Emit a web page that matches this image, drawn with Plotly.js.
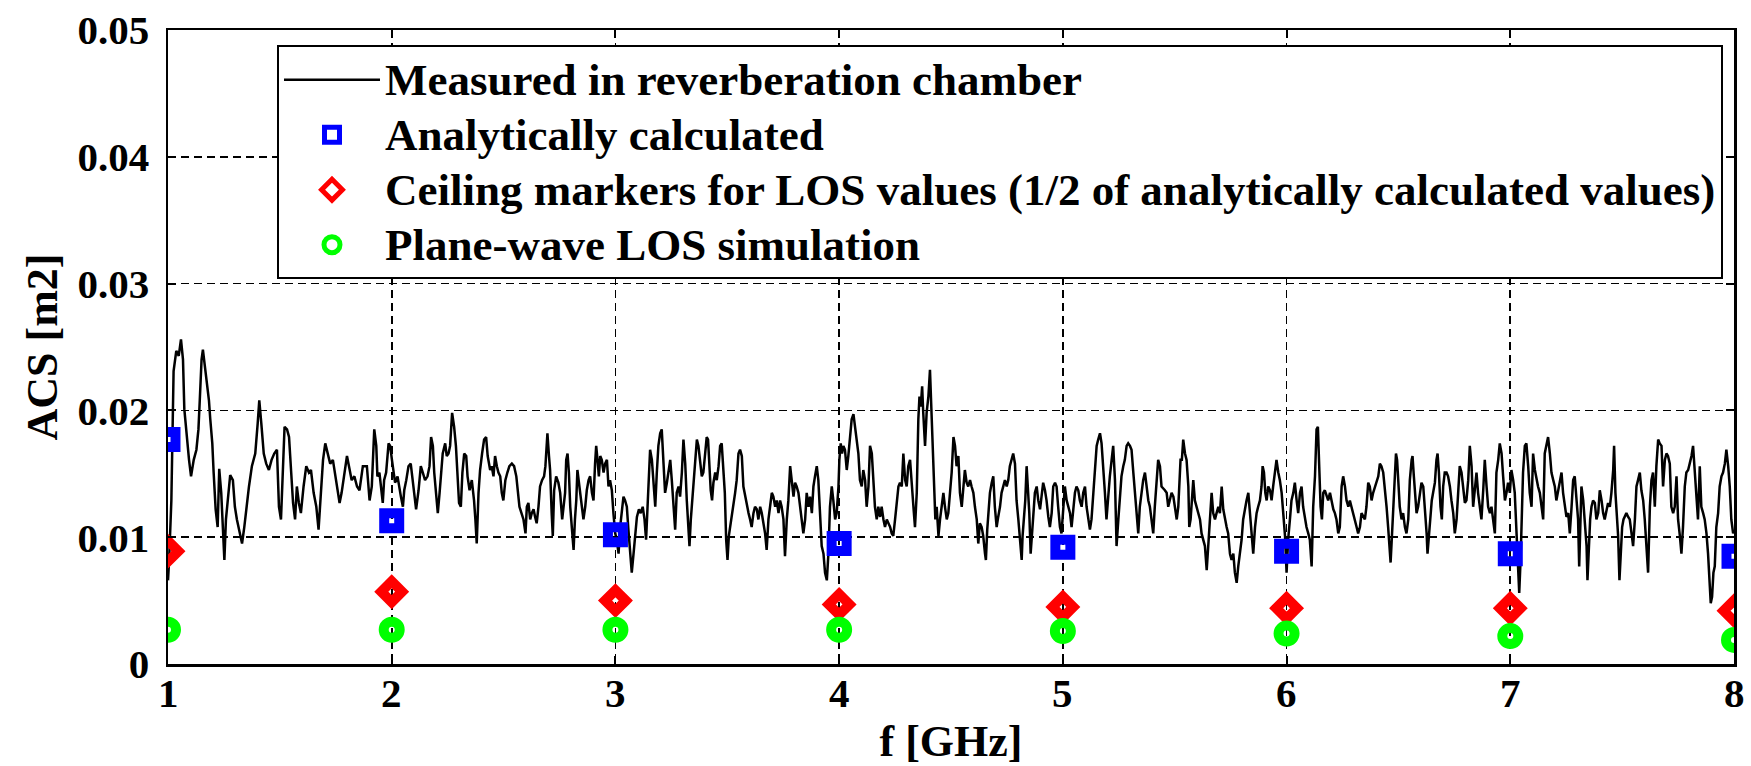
<!DOCTYPE html>
<html><head><meta charset="utf-8">
<script src="https://cdn.plot.ly/plotly-3.0.1.min.js"></script>
<style>html,body{margin:0;padding:0;background:#fff;}#chart{width:1751px;height:766px;}</style>
</head><body><div id="chart"></div>
<script>
const measuredFreq = [
1.000,1.005,1.015,1.025,1.037,1.048,1.058,1.067,1.073,1.085,1.094,1.103,1.115,1.127,1.136,1.142,1.150,1.156,1.165,1.174,1.183,1.189,1.198,1.204,1.213,1.222,1.229,1.238,1.246,1.252,1.259,1.270,1.278,1.290,1.299,1.308,1.320,1.331,1.341,1.350,1.362,1.375,1.390,1.401,1.408,1.417,1.428,1.439,1.451,1.463,1.475,1.487,1.496,1.505,1.514,1.521,1.532,1.541,1.550,1.559,1.568,1.576,1.585,1.594,1.606,1.618,1.630,1.639,1.651,1.663,1.673,1.684,1.693,1.703,1.713,1.725,1.737,1.746,1.755,1.767,1.776,1.788,1.800,1.809,1.821,1.833,1.845,1.856,1.871,
1.889,1.901,1.911,1.922,1.931,1.936,1.945,1.953,1.960,1.966,1.975,1.986,1.993,2.001,2.008,2.015,2.026,2.035,2.041,2.050,2.056,2.065,2.075,2.085,2.094,2.102,2.109,2.120,2.130,2.139,2.149,2.160,2.169,2.176,2.184,2.190,2.199,2.206,2.214,2.221,2.228,2.239,2.246,2.254,2.261,2.270,2.279,2.287,2.294,2.301,2.309,2.316,2.324,2.333,2.339,2.348,2.358,2.368,2.374,2.380,2.388,2.395,2.404,2.413,2.422,2.429,2.440,2.447,2.455,2.462,2.470,2.477,2.485,2.492,2.499,2.508,2.517,2.526,2.537,2.547,2.557,2.562,2.571,2.580,2.589,2.598,2.604,2.611,2.619,2.626,2.634,2.641,2.648,2.656,2.663,2.672,2.681,2.687,2.696,2.703,2.708,2.715,2.720,2.726,2.735,2.745,2.753,2.762,
2.775,2.780,2.786,2.792,2.798,2.805,2.813,2.819,2.825,2.830,2.836,2.842,2.850,2.857,2.865,2.872,2.880,2.887,2.895,2.902,2.909,2.914,2.920,2.926,2.932,2.939,2.947,2.954,2.962,2.969,2.976,2.984,2.991,2.999,3.006,3.014,3.021,3.029,3.036,3.043,3.051,3.058,3.066,3.073,3.081,3.088,3.096,3.105,3.113,3.122,3.130,3.137,3.143,3.149,3.155,3.163,3.170,3.178,3.185,3.192,3.200,3.207,3.215,3.222,3.230,3.237,3.245,3.252,3.259,3.267,3.274,3.282,3.289,3.297,3.304,3.312,3.319,3.326,3.331,3.337,3.346,3.355,3.364,3.371,3.379,3.386,3.393,3.401,3.408,3.414,3.420,3.426,3.432,3.438,3.446,3.453,3.461,3.468,3.475,3.483,3.489,3.495,3.501,3.507,3.513,3.520,3.528,3.535,3.542,3.550,3.557,3.565,3.572,3.580,3.587,3.595,3.602,3.609,3.617,3.624,3.632,3.639,3.647,3.654,
3.669,3.676,3.684,3.691,3.699,3.706,3.714,3.721,3.729,3.736,3.743,3.751,3.758,3.766,3.773,3.781,3.788,3.796,3.803,3.810,3.818,3.825,3.833,3.840,3.848,3.855,3.863,3.870,3.878,3.885,3.892,3.900,3.907,3.915,3.922,3.930,3.937,3.945,3.952,3.959,3.967,3.974,3.982,3.989,3.997,4.001,4.007,4.013,4.019,4.026,4.034,4.041,4.049,4.056,4.064,4.071,4.079,4.086,4.093,4.101,4.108,4.116,4.123,4.131,4.138,4.146,4.153,4.160,4.168,4.175,4.183,4.190,4.198,4.205,4.213,4.220,4.228,4.235,4.242,4.250,4.257,4.265,4.272,4.280,4.287,4.295,4.302,4.309,4.317,4.324,4.332,4.339,4.347,4.354,4.359,4.365,4.371,4.376,4.384,4.391,4.399,4.406,4.412,4.418,4.424,4.430,4.436,4.444,4.451,4.458,4.466,4.473,4.481,4.488,4.496,4.503,4.511,4.518,4.525,4.533,4.540,4.548,
4.562,4.570,4.577,4.585,4.592,4.600,4.607,4.615,4.622,4.629,4.637,4.644,4.652,4.656,4.662,4.668,4.674,4.682,4.689,4.696,4.704,4.711,4.719,4.726,4.734,4.741,4.749,4.756,4.763,4.771,4.778,4.786,4.793,4.801,4.808,4.816,4.820,4.826,4.832,4.838,4.844,4.850,4.856,4.862,4.868,4.875,4.883,4.890,4.898,4.905,4.912,4.920,4.927,4.935,4.942,4.950,4.957,4.965,4.972,4.979,4.987,4.994,5.002,5.009,5.017,5.024,5.032,5.039,5.046,5.054,5.061,5.069,5.076,5.084,5.091,5.099,5.106,5.113,5.121,5.128,5.136,5.143,5.151,5.158,5.166,5.173,5.180,5.188,5.195,5.203,5.210,5.218,5.225,5.233,5.240,5.248,5.255,5.262,5.270,5.277,5.285,5.292,5.300,5.307,5.315,5.322,5.329,5.337,5.344,5.352,5.359,5.367,5.374,5.382,5.389,5.396,5.404,5.411,5.419,5.426,5.434,5.441,
5.456,5.464,5.471,5.479,5.486,5.494,5.501,5.509,5.516,5.520,5.526,5.532,5.538,5.546,5.553,5.561,5.565,5.571,5.577,5.583,5.590,5.598,5.605,5.613,5.620,5.628,5.635,5.643,5.650,5.657,5.665,5.672,5.680,5.687,5.695,5.702,5.710,5.717,5.724,5.732,5.739,5.747,5.754,5.762,5.769,5.777,5.784,5.792,5.799,5.806,5.814,5.821,5.829,5.836,5.844,5.851,5.859,5.866,5.873,5.881,5.888,5.893,5.899,5.905,5.911,5.918,5.926,5.933,5.940,5.948,5.955,5.963,5.970,5.978,5.985,5.993,6.000,6.007,6.015,6.022,6.030,6.037,6.045,6.052,6.060,6.067,6.074,6.082,6.089,6.097,6.104,6.112,6.119,6.127,6.134,6.140,6.146,6.152,6.158,6.164,6.171,6.179,6.186,6.194,6.201,6.209,6.216,6.223,6.231,6.238,6.246,6.253,6.261,6.268,6.276,6.283,6.290,6.298,6.305,6.313,6.320,6.328,6.335,
6.350,6.357,6.365,6.372,6.380,6.387,6.395,6.402,6.410,6.417,6.424,6.432,6.439,6.447,6.454,6.459,6.465,6.471,6.477,6.483,6.489,6.494,6.500,6.506,6.514,6.521,6.529,6.536,6.544,6.551,6.559,6.563,6.569,6.575,6.581,6.588,6.596,6.603,6.611,6.618,6.626,6.630,6.636,6.643,6.649,6.655,6.663,6.670,6.675,6.681,6.688,6.694,6.700,6.707,6.715,6.722,6.730,6.737,6.745,6.752,6.760,6.767,6.774,6.782,6.789,6.797,6.804,6.812,6.819,6.827,6.834,6.841,6.849,6.856,6.864,6.871,6.879,6.886,6.894,6.901,6.909,6.916,6.923,6.931,6.938,6.946,6.953,6.961,6.968,6.976,6.983,6.990,6.998,7.005,7.013,7.020,7.028,7.035,7.040,7.046,7.051,7.057,7.065,7.072,7.080,7.087,7.095,7.102,7.110,7.117,7.124,7.132,7.139,7.147,7.154,7.162,7.169,7.177,7.184,7.192,7.199,7.206,
7.229,7.236,7.244,7.251,7.259,7.266,7.274,7.281,7.288,7.296,7.303,7.308,7.314,7.318,7.326,7.333,7.341,7.345,7.351,7.357,7.363,7.370,7.378,7.385,7.393,7.400,7.408,7.415,7.422,7.430,7.437,7.445,7.452,7.460,7.464,7.470,7.476,7.482,7.488,7.494,7.500,7.506,7.512,7.519,7.527,7.534,7.542,7.549,7.557,7.564,7.571,7.579,7.586,7.594,7.601,7.609,7.616,7.624,7.631,7.638,7.646,7.653,7.661,7.668,7.676,7.683,7.691,7.698,7.705,7.713,7.720,7.728,7.735,7.743,7.750,7.758,7.765,7.772,7.780,7.787,7.795,7.802,7.810,7.817,7.825,7.832,7.839,7.847,7.854,7.862,7.869,7.877,7.884,7.892,7.896,7.902,7.908,7.914,7.921,7.929,7.936,7.944,7.951,7.959,7.966,7.974,7.981,7.988,7.996,8.000
];
const measuredAcs = [
0.0066,0.0082,0.0129,0.0231,0.0247,0.0243,0.0256,0.0240,0.0201,0.0174,0.0161,0.0148,0.0161,0.0169,0.0185,0.0208,0.0240,0.0248,0.0235,0.0219,0.0208,0.0193,0.0174,0.0151,0.0122,0.0108,0.0154,0.0135,0.0103,0.0082,0.0114,0.0137,0.0149,0.0145,0.0124,0.0114,0.0103,0.0095,0.0108,0.0124,0.0140,0.0156,0.0166,0.0190,0.0208,0.0190,0.0166,0.0158,0.0153,0.0161,0.0166,0.0169,0.0124,0.0114,0.0156,0.0187,0.0185,0.0179,0.0153,0.0127,0.0114,0.0140,0.0127,0.0119,0.0140,0.0156,0.0151,0.0153,0.0135,0.0124,0.0106,0.0135,0.0161,0.0174,0.0166,0.0158,0.0161,0.0151,0.0140,0.0127,0.0135,0.0151,0.0164,0.0156,0.0145,0.0148,0.0140,0.0137,0.0156,
0.0156,0.0129,0.0140,0.0185,0.0172,0.0148,0.0151,0.0135,0.0127,0.0145,0.0151,0.0174,0.0172,0.0161,0.0151,0.0143,0.0148,0.0137,0.0132,0.0124,0.0137,0.0145,0.0156,0.0158,0.0143,0.0135,0.0122,0.0137,0.0156,0.0151,0.0145,0.0148,0.0156,0.0179,0.0172,0.0151,0.0132,0.0119,0.0135,0.0151,0.0166,0.0174,0.0164,0.0166,0.0172,0.0198,0.0187,0.0172,0.0153,0.0127,0.0124,0.0151,0.0166,0.0164,0.0148,0.0137,0.0145,0.0129,0.0114,0.0095,0.0135,0.0153,0.0166,0.0177,0.0179,0.0164,0.0153,0.0156,0.0148,0.0164,0.0156,0.0151,0.0148,0.0135,0.0129,0.0145,0.0151,0.0156,0.0158,0.0156,0.0148,0.0137,0.0124,0.0119,0.0114,0.0103,0.0124,0.0127,0.0114,0.0119,0.0122,0.0116,0.0111,0.0124,0.0140,0.0145,0.0148,0.0156,0.0182,0.0164,0.0153,0.0119,0.0101,0.0137,0.0148,0.0143,0.0135,0.0114,
0.0135,0.0161,0.0166,0.0151,0.0124,0.0108,0.0090,0.0114,0.0129,0.0153,0.0145,0.0135,0.0124,0.0114,0.0124,0.0137,0.0145,0.0148,0.0135,0.0129,0.0158,0.0172,0.0161,0.0148,0.0164,0.0161,0.0151,0.0158,0.0161,0.0140,0.0145,0.0137,0.0119,0.0103,0.0098,0.0087,0.0108,0.0124,0.0132,0.0129,0.0124,0.0106,0.0087,0.0072,0.0087,0.0103,0.0116,0.0122,0.0119,0.0124,0.0114,0.0098,0.0124,0.0153,0.0169,0.0161,0.0140,0.0124,0.0151,0.0172,0.0182,0.0185,0.0158,0.0135,0.0143,0.0151,0.0161,0.0145,0.0124,0.0106,0.0135,0.0140,0.0132,0.0151,0.0177,0.0158,0.0129,0.0101,0.0093,0.0114,0.0135,0.0151,0.0177,0.0172,0.0156,0.0148,0.0151,0.0166,0.0179,0.0177,0.0153,0.0137,0.0129,0.0143,0.0151,0.0145,0.0156,0.0172,0.0174,0.0156,0.0135,0.0098,0.0082,0.0101,0.0108,0.0114,0.0124,0.0135,0.0145,0.0166,0.0169,0.0164,0.0140,0.0132,0.0127,0.0119,0.0114,0.0108,0.0119,0.0124,0.0122,0.0114,0.0124,0.0119,
0.0103,0.0090,0.0114,0.0124,0.0135,0.0132,0.0124,0.0129,0.0119,0.0129,0.0124,0.0114,0.0085,0.0114,0.0129,0.0156,0.0145,0.0132,0.0143,0.0140,0.0135,0.0124,0.0114,0.0103,0.0114,0.0135,0.0124,0.0132,0.0119,0.0140,0.0148,0.0156,0.0145,0.0114,0.0093,0.0087,0.0072,0.0066,0.0087,0.0124,0.0140,0.0129,0.0114,0.0119,0.0140,0.0161,0.0174,0.0166,0.0172,0.0169,0.0153,0.0164,0.0179,0.0193,0.0197,0.0187,0.0177,0.0166,0.0145,0.0140,0.0153,0.0145,0.0124,0.0140,0.0172,0.0166,0.0145,0.0124,0.0114,0.0124,0.0116,0.0124,0.0114,0.0108,0.0114,0.0111,0.0108,0.0103,0.0101,0.0114,0.0124,0.0140,0.0143,0.0140,0.0166,0.0145,0.0140,0.0156,0.0161,0.0140,0.0124,0.0108,0.0135,0.0193,0.0211,0.0203,0.0219,0.0198,0.0172,0.0198,0.0211,0.0232,0.0198,0.0172,0.0135,0.0114,0.0124,0.0101,0.0114,0.0124,0.0135,0.0124,0.0114,0.0119,0.0135,0.0151,0.0179,0.0172,0.0156,0.0164,0.0135,0.0124,
0.0153,0.0143,0.0140,0.0145,0.0140,0.0135,0.0124,0.0114,0.0095,0.0111,0.0108,0.0101,0.0087,0.0082,0.0106,0.0124,0.0135,0.0143,0.0148,0.0124,0.0108,0.0116,0.0124,0.0135,0.0140,0.0145,0.0140,0.0145,0.0156,0.0161,0.0166,0.0158,0.0129,0.0114,0.0101,0.0082,0.0101,0.0114,0.0129,0.0156,0.0140,0.0119,0.0087,0.0103,0.0124,0.0135,0.0140,0.0129,0.0122,0.0135,0.0143,0.0137,0.0129,0.0116,0.0108,0.0119,0.0140,0.0143,0.0140,0.0124,0.0108,0.0103,0.0124,0.0140,0.0129,0.0124,0.0119,0.0108,0.0124,0.0135,0.0140,0.0137,0.0129,0.0124,0.0135,0.0140,0.0124,0.0114,0.0106,0.0114,0.0135,0.0148,0.0172,0.0177,0.0182,0.0174,0.0151,0.0135,0.0114,0.0135,0.0148,0.0161,0.0172,0.0145,0.0093,0.0114,0.0135,0.0148,0.0156,0.0161,0.0172,0.0174,0.0172,0.0169,0.0151,0.0135,0.0124,0.0103,0.0124,0.0135,0.0145,0.0151,0.0140,0.0129,0.0124,0.0114,0.0103,0.0124,0.0148,0.0161,0.0156,0.0140,
0.0137,0.0135,0.0124,0.0129,0.0135,0.0132,0.0124,0.0114,0.0124,0.0145,0.0161,0.0161,0.0177,0.0166,0.0161,0.0140,0.0108,0.0114,0.0129,0.0145,0.0129,0.0124,0.0119,0.0114,0.0103,0.0098,0.0093,0.0074,0.0093,0.0114,0.0135,0.0119,0.0114,0.0119,0.0124,0.0119,0.0140,0.0122,0.0114,0.0108,0.0103,0.0087,0.0082,0.0087,0.0072,0.0064,0.0077,0.0087,0.0098,0.0114,0.0124,0.0129,0.0135,0.0119,0.0103,0.0087,0.0108,0.0119,0.0124,0.0129,0.0140,0.0156,0.0151,0.0135,0.0129,0.0140,0.0137,0.0129,0.0140,0.0151,0.0161,0.0151,0.0145,0.0135,0.0119,0.0101,0.0072,0.0098,0.0114,0.0129,0.0135,0.0143,0.0129,0.0119,0.0135,0.0140,0.0124,0.0114,0.0108,0.0103,0.0098,0.0077,0.0124,0.0148,0.0185,0.0187,0.0145,0.0124,0.0114,0.0135,0.0137,0.0132,0.0129,0.0135,0.0129,0.0122,0.0119,0.0114,0.0103,0.0108,0.0140,0.0148,0.0140,0.0129,0.0124,0.0129,0.0124,0.0119,0.0114,0.0108,0.0103,0.0108,0.0119,
0.0114,0.0124,0.0143,0.0140,0.0129,0.0135,0.0140,0.0143,0.0148,0.0158,0.0156,0.0151,0.0140,0.0124,0.0108,0.0098,0.0080,0.0101,0.0124,0.0151,0.0166,0.0161,0.0145,0.0124,0.0114,0.0119,0.0108,0.0103,0.0114,0.0145,0.0161,0.0164,0.0148,0.0129,0.0119,0.0124,0.0135,0.0143,0.0140,0.0124,0.0103,0.0087,0.0103,0.0119,0.0129,0.0135,0.0143,0.0161,0.0166,0.0151,0.0124,0.0114,0.0140,0.0151,0.0151,0.0148,0.0140,0.0129,0.0119,0.0103,0.0114,0.0135,0.0156,0.0151,0.0137,0.0127,0.0129,0.0145,0.0172,0.0156,0.0124,0.0140,0.0151,0.0135,0.0124,0.0114,0.0137,0.0161,0.0140,0.0124,0.0119,0.0124,0.0114,0.0103,0.0151,0.0161,0.0174,0.0166,0.0148,0.0129,0.0135,0.0143,0.0135,0.0153,0.0145,0.0135,0.0103,0.0072,0.0056,0.0082,0.0119,0.0151,0.0172,0.0174,0.0156,0.0135,0.0124,0.0166,0.0153,0.0145,0.0140,0.0135,0.0124,0.0114,0.0166,0.0172,0.0179,0.0166,0.0151,0.0145,0.0140,0.0129,
0.0151,0.0135,0.0124,0.0116,0.0119,0.0103,0.0124,0.0145,0.0148,0.0129,0.0114,0.0077,0.0108,0.0140,0.0129,0.0114,0.0093,0.0066,0.0098,0.0114,0.0124,0.0129,0.0127,0.0114,0.0119,0.0137,0.0129,0.0119,0.0114,0.0122,0.0127,0.0124,0.0135,0.0153,0.0172,0.0135,0.0114,0.0101,0.0066,0.0087,0.0108,0.0114,0.0116,0.0119,0.0116,0.0114,0.0103,0.0093,0.0114,0.0140,0.0145,0.0151,0.0137,0.0129,0.0114,0.0087,0.0072,0.0124,0.0145,0.0151,0.0124,0.0156,0.0177,0.0174,0.0172,0.0140,0.0161,0.0166,0.0164,0.0158,0.0124,0.0119,0.0124,0.0148,0.0114,0.0101,0.0087,0.0108,0.0140,0.0151,0.0153,0.0158,0.0164,0.0172,0.0153,0.0135,0.0114,0.0156,0.0124,0.0119,0.0114,0.0103,0.0087,0.0061,0.0048,0.0053,0.0072,0.0077,0.0108,0.0119,0.0140,0.0148,0.0151,0.0158,0.0169,0.0156,0.0140,0.0114,0.0103,0.0105
];
const markerFreq = [1, 2, 3, 4, 5, 6, 7, 8];
const analyticAcs = [0.0177, 0.0113, 0.0102, 0.0095, 0.0092, 0.0089, 0.0087, 0.0085];
const ceilingAcs = [0.0089, 0.0057, 0.0050, 0.0047, 0.0045, 0.0044, 0.0044, 0.0042];
const planeWaveAcs = [0.0027, 0.0027, 0.0027, 0.0027, 0.0026, 0.0024, 0.0022, 0.0019];
const xTickVals = [1, 2, 3, 4, 5, 6, 7, 8];
const xTickText = ['1', '2', '3', '4', '5', '6', '7', '8'];
const yTickVals = [0, 0.01, 0.02, 0.03, 0.04, 0.05];
const yTickText = ['0', '0.01', '0.02', '0.03', '0.04', '0.05'];
const seriesNames = [
  'Measured in reverberation chamber',
  'Analytically calculated',
  'Ceiling markers for LOS values (1/2 of analytically calculated values)',
  'Plane-wave LOS simulation'
];

const FONT = 'Liberation Serif, Times New Roman, serif';
const legendName = s => '<span style="font-size:45px">' + s + '</span>';

const traces = [
  {x: measuredFreq, y: measuredAcs, type: 'scatter', mode: 'lines', name: legendName(seriesNames[0]),
   line: {color: '#000000', width: 2.5}},
  {x: markerFreq, y: analyticAcs, type: 'scatter', mode: 'markers', name: legendName(seriesNames[1]),
   marker: {symbol: 'square-open', size: 15, color: '#0000ff', line: {width: 10, color: '#0000ff'}}},
  {x: markerFreq, y: ceilingAcs, type: 'scatter', mode: 'markers', name: legendName(seriesNames[2]),
   marker: {symbol: 'diamond-open', size: 16, color: '#ff0000', line: {width: 10, color: '#ff0000'}}},
  {x: markerFreq, y: planeWaveAcs, type: 'scatter', mode: 'markers', name: legendName(seriesNames[3]),
   marker: {symbol: 'circle-open', size: 16, color: '#00ff00', line: {width: 10, color: '#00ff00'}}}
];

const axisCommon = {
  showline: true, linecolor: '#000000', linewidth: 2.5, mirror: 'allticks',
  ticks: 'inside', ticklen: 8, tickwidth: 2, tickcolor: '#000000',
  showgrid: true, gridcolor: '#000000', gridwidth: 1.6, griddash: '8px,5px',
  zeroline: false,
  tickfont: {family: FONT, size: 41, color: '#000000', weight: 'bold'}
};

// x tick labels placed as annotations (through the x scale) to get the reference's gap below the axis
const xLabelAnnotations = xTickVals.map((v, i) => ({
  x: v, xref: 'x', y: 0, yref: 'paper', yanchor: 'middle', xanchor: 'center',
  yshift: -29, showarrow: false, text: xTickText[i],
  font: {family: FONT, size: 41, color: '#000000', weight: 'bold'}
}));

const layout = {
  width: 1751, height: 766,
  paper_bgcolor: '#ffffff', plot_bgcolor: '#ffffff',
  margin: {l: 168, r: 17, t: 30, b: 102},
  showlegend: true,
  annotations: xLabelAnnotations,
  xaxis: Object.assign({}, axisCommon, {
    range: [1, 8], tickmode: 'array', tickvals: xTickVals, ticktext: xTickText,
    showticklabels: false,
    title: {text: 'f [GHz]', font: {family: FONT, size: 44, color: '#000000', weight: 'bold'}, standoff: 65}
  }),
  yaxis: Object.assign({}, axisCommon, {
    range: [0, 0.05], tickmode: 'array', tickvals: yTickVals, ticktext: yTickText,
    ticklabelstandoff: 8,
    title: {text: 'ACS [m2]', font: {family: FONT, size: 44, color: '#000000', weight: 'bold'}, standoff: 6}
  }),
  legend: {
    x: 0.0696, y: 0.976, xanchor: 'left', yanchor: 'top',
    bgcolor: '#ffffff', bordercolor: '#000000', borderwidth: 2,
    font: {family: FONT, size: 40, color: '#000000', weight: 'bold'},
    itemwidth: 96, tracegroupgap: 0
  }
};

Plotly.newPlot('chart', traces, layout, {displayModeBar: false, staticPlot: true});
</script>
</body></html>
